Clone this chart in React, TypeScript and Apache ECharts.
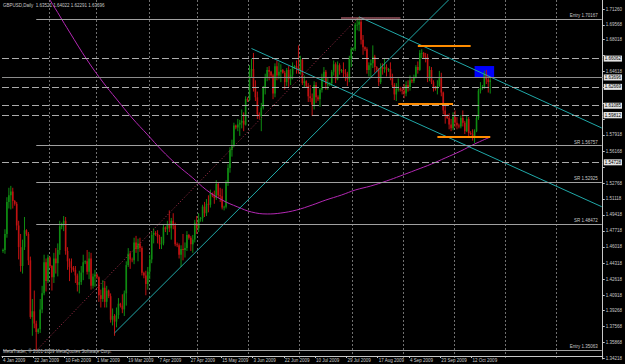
import { useEffect, useRef } from "react";
import * as echarts from "echarts";

// GBPUSD Daily bars, [open, high, low, close], one per trading day (Sunday bars included)
const OHLC: number[][] = [
  // Jan 4-9
  [1.4560,1.4585,1.4540,1.4570],[1.4570,1.4790,1.4530,1.4740],[1.4740,1.5130,1.4700,1.5080],[1.5080,1.5230,1.5010,1.5150],[1.5150,1.5250,1.5000,1.5190],[1.5190,1.5230,1.5010,1.5090],
  // Jan 11-16
  [1.5090,1.5100,1.5040,1.5060],[1.5060,1.5080,1.4780,1.4830],[1.4830,1.4880,1.4470,1.4600],[1.4600,1.4740,1.4340,1.4400],[1.4400,1.4680,1.4320,1.4600],[1.4600,1.4920,1.4570,1.4780],
  // Jan 18-23
  [1.4780,1.4790,1.4720,1.4740],[1.4740,1.4760,1.4410,1.4460],[1.4460,1.4500,1.3840,1.3860],[1.3860,1.4050,1.3660,1.3920],[1.3920,1.4140,1.3740,1.3790],[1.3790,1.3820,1.3503,1.3700],
  // Jan 25-30
  [1.3700,1.3740,1.3680,1.3730],[1.3730,1.4050,1.3690,1.3940],[1.3940,1.4190,1.3900,1.4110],[1.4110,1.4520,1.4090,1.4440],[1.4440,1.4480,1.4130,1.4240],[1.4240,1.4520,1.4220,1.4490],
  // Feb 1-6
  [1.4490,1.4500,1.4380,1.4400],[1.4400,1.4410,1.4140,1.4280],[1.4280,1.4540,1.4220,1.4480],[1.4480,1.4590,1.4320,1.4430],[1.4430,1.4640,1.4290,1.4570],[1.4570,1.4880,1.4520,1.4820],
  // Feb 8-13
  [1.4820,1.4860,1.4790,1.4840],[1.4840,1.4930,1.4770,1.4880],[1.4880,1.4920,1.4520,1.4560],[1.4560,1.4600,1.4360,1.4450],[1.4450,1.4480,1.4240,1.4390],[1.4390,1.4480,1.4330,1.4380],
  // Feb 15-20
  [1.4380,1.4400,1.4340,1.4360],[1.4360,1.4400,1.4220,1.4300],[1.4300,1.4320,1.4130,1.4200],[1.4200,1.4350,1.4110,1.4230],[1.4230,1.4400,1.4200,1.4330],[1.4330,1.4520,1.4250,1.4440],
  // Feb 22-27
  [1.4440,1.4460,1.4420,1.4450],[1.4450,1.4570,1.4310,1.4340],[1.4340,1.4550,1.4260,1.4480],[1.4480,1.4540,1.4150,1.4190],[1.4190,1.4320,1.4160,1.4290],[1.4290,1.4360,1.4180,1.4310],
  // Mar 1-6
  [1.4310,1.4320,1.4260,1.4280],[1.4280,1.4290,1.4020,1.4090],[1.4090,1.4150,1.3960,1.4050],[1.4050,1.4250,1.4020,1.4170],[1.4170,1.4240,1.3960,1.4020],[1.4020,1.4190,1.3960,1.4140],
  // Mar 8-13
  [1.4140,1.4150,1.4060,1.4080],[1.4080,1.4110,1.3800,1.3830],[1.3830,1.3950,1.3770,1.3870],[1.3870,1.3890,1.3660,1.3810],[1.3810,1.3960,1.3750,1.3880],[1.3880,1.4060,1.3840,1.4000],
  // Mar 15-20
  [1.4000,1.4010,1.3960,1.3980],[1.3980,1.4100,1.3900,1.3940],[1.3940,1.4140,1.3870,1.4110],[1.4110,1.4450,1.3980,1.4410],[1.4410,1.4590,1.4390,1.4530],[1.4530,1.4560,1.4370,1.4470],
  // Mar 22-27
  [1.4470,1.4490,1.4440,1.4460],[1.4460,1.4700,1.4420,1.4650],[1.4650,1.4720,1.4540,1.4580],[1.4580,1.4690,1.4450,1.4640],[1.4640,1.4700,1.4550,1.4590],[1.4590,1.4610,1.4300,1.4330],
  // Mar 29-Apr 3
  [1.4330,1.4340,1.4270,1.4300],[1.4300,1.4350,1.4090,1.4210],[1.4210,1.4390,1.4150,1.4340],[1.4340,1.4520,1.4260,1.4470],[1.4470,1.4770,1.4430,1.4730],[1.4730,1.4800,1.4640,1.4750],
  // Apr 5-9
  [1.4750,1.4770,1.4720,1.4740],[1.4740,1.4780,1.4640,1.4710],[1.4710,1.4730,1.4580,1.4630],[1.4630,1.4710,1.4580,1.4640],[1.4640,1.4840,1.4620,1.4810],
  // Apr 12-17
  [1.4810,1.4820,1.4760,1.4790],[1.4790,1.4880,1.4730,1.4840],[1.4840,1.4990,1.4760,1.4800],[1.4800,1.4910,1.4680,1.4880],[1.4880,1.4960,1.4790,1.4830],[1.4830,1.4860,1.4610,1.4630],
  // Apr 19-24
  [1.4630,1.4650,1.4600,1.4620],[1.4620,1.4640,1.4480,1.4520],[1.4520,1.4620,1.4390,1.4580],[1.4580,1.4740,1.4460,1.4570],[1.4570,1.4650,1.4490,1.4590],[1.4590,1.4770,1.4560,1.4730],
  // Apr 26-May 1
  [1.4730,1.4740,1.4680,1.4700],[1.4700,1.4720,1.4560,1.4630],[1.4630,1.4730,1.4540,1.4680],[1.4680,1.4890,1.4650,1.4860],[1.4860,1.4930,1.4740,1.4800],[1.4800,1.4960,1.4760,1.4900],
  // May 3-8
  [1.4900,1.4920,1.4870,1.4910],[1.4910,1.5050,1.4870,1.5030],[1.5030,1.5080,1.4920,1.4960],[1.4960,1.5110,1.4930,1.5060],[1.5060,1.5150,1.4970,1.5050],[1.5050,1.5210,1.5020,1.5170],
  // May 10-15
  [1.5170,1.5180,1.5130,1.5150],[1.5150,1.5200,1.5060,1.5120],[1.5120,1.5310,1.5100,1.5270],[1.5270,1.5290,1.5120,1.5150],[1.5150,1.5230,1.5080,1.5140],[1.5140,1.5220,1.5000,1.5020],
  // May 17-22
  [1.5020,1.5040,1.4990,1.5030],[1.5030,1.5310,1.5010,1.5280],[1.5280,1.5480,1.5250,1.5440],[1.5440,1.5660,1.5390,1.5630],[1.5630,1.5740,1.5560,1.5680],[1.5680,1.5920,1.5660,1.5890],
  // May 24-29
  [1.5890,1.5900,1.5850,1.5870],[1.5870,1.5960,1.5830,1.5900],[1.5900,1.5950,1.5780,1.5920],[1.5920,1.6060,1.5860,1.5940],[1.5940,1.6030,1.5830,1.5900],[1.5900,1.6200,1.5890,1.6170],
  // May 31-Jun 5
  [1.6170,1.6190,1.6140,1.6160],[1.6160,1.6530,1.6150,1.6470],[1.6470,1.6600,1.6400,1.6490],[1.6490,1.6660,1.6250,1.6300],[1.6300,1.6370,1.6150,1.6190],[1.6190,1.6250,1.5960,1.6010],
  // Jun 7-12
  [1.6010,1.6030,1.5960,1.5990],[1.5990,1.6130,1.5830,1.6080],[1.6080,1.6310,1.6060,1.6290],[1.6290,1.6440,1.6220,1.6400],[1.6400,1.6510,1.6360,1.6480],[1.6480,1.6520,1.6370,1.6460],
  // Jun 14-19
  [1.6460,1.6470,1.6390,1.6420],[1.6420,1.6440,1.6170,1.6230],[1.6230,1.6550,1.6190,1.6520],[1.6520,1.6580,1.6370,1.6420],[1.6420,1.6560,1.6380,1.6460],[1.6460,1.6540,1.6350,1.6480],
  // Jun 21-26
  [1.6480,1.6490,1.6440,1.6450],[1.6450,1.6470,1.6270,1.6350],[1.6350,1.6500,1.6310,1.6480],[1.6480,1.6520,1.6300,1.6380],[1.6380,1.6490,1.6320,1.6430],[1.6430,1.6560,1.6380,1.6510],
  // Jun 28-Jul 3
  [1.6510,1.6530,1.6490,1.6520],[1.6520,1.6580,1.6440,1.6500],[1.6500,1.6740,1.6440,1.6470],[1.6470,1.6630,1.6430,1.6590],[1.6590,1.6600,1.6320,1.6340],[1.6340,1.6420,1.6300,1.6360],
  // Jul 5-10
  [1.6360,1.6370,1.6290,1.6310],[1.6310,1.6340,1.6140,1.6200],[1.6200,1.6320,1.6140,1.6180],[1.6180,1.6230,1.5990,1.6110],[1.6110,1.6360,1.6060,1.6320],[1.6320,1.6350,1.6130,1.6190],
  // Jul 12-17
  [1.6190,1.6210,1.6150,1.6170],[1.6170,1.6290,1.6090,1.6270],[1.6270,1.6440,1.6240,1.6400],[1.6400,1.6510,1.6360,1.6460],[1.6460,1.6480,1.6270,1.6330],[1.6330,1.6400,1.6270,1.6330],
  // Jul 19-24
  [1.6330,1.6350,1.6310,1.6340],[1.6340,1.6480,1.6310,1.6460],[1.6460,1.6580,1.6420,1.6540],[1.6540,1.6560,1.6340,1.6380],[1.6380,1.6570,1.6370,1.6530],[1.6530,1.6550,1.6430,1.6470],
  // Jul 26-31
  [1.6470,1.6490,1.6450,1.6480],[1.6480,1.6560,1.6400,1.6450],[1.6450,1.6490,1.6360,1.6440],[1.6440,1.6460,1.6310,1.6380],[1.6380,1.6630,1.6350,1.6600],[1.6600,1.6720,1.6510,1.6700],
  // Aug 2-7
  [1.6700,1.6720,1.6680,1.6700],[1.6700,1.6980,1.6680,1.6960],[1.6960,1.7030,1.6900,1.6960],[1.6960,1.7043,1.6890,1.6990],[1.6990,1.7010,1.6750,1.6800],[1.6800,1.6850,1.6640,1.6720],
  // Aug 9-14
  [1.6720,1.6730,1.6680,1.6700],[1.6700,1.6720,1.6440,1.6480],[1.6480,1.6560,1.6410,1.6530],[1.6530,1.6590,1.6400,1.6550],[1.6550,1.6740,1.6500,1.6620],[1.6620,1.6640,1.6450,1.6510],
  // Aug 16-21
  [1.6510,1.6520,1.6460,1.6480],[1.6480,1.6500,1.6310,1.6350],[1.6350,1.6550,1.6330,1.6510],[1.6510,1.6550,1.6430,1.6490],[1.6490,1.6600,1.6450,1.6510],[1.6510,1.6540,1.6410,1.6480],
  // Aug 23-28
  [1.6480,1.6500,1.6460,1.6490],[1.6490,1.6560,1.6370,1.6400],[1.6400,1.6440,1.6290,1.6320],[1.6320,1.6340,1.6160,1.6220],[1.6220,1.6340,1.6150,1.6280],[1.6280,1.6390,1.6250,1.6280],
  // Aug 30-Sep 4
  [1.6280,1.6300,1.6250,1.6270],[1.6270,1.6300,1.6220,1.6260],[1.6260,1.6330,1.6180,1.6230],[1.6230,1.6360,1.6200,1.6320],[1.6320,1.6370,1.6250,1.6300],[1.6300,1.6420,1.6260,1.6370],
  // Sep 6-11
  [1.6370,1.6390,1.6340,1.6360],[1.6360,1.6430,1.6340,1.6400],[1.6400,1.6530,1.6390,1.6510],[1.6510,1.6570,1.6440,1.6480],[1.6480,1.6690,1.6470,1.6660],[1.6660,1.6700,1.6600,1.6660],
  // Sep 13-18
  [1.6660,1.6670,1.6600,1.6620],[1.6620,1.6660,1.6560,1.6610],[1.6610,1.6650,1.6350,1.6390],[1.6390,1.6520,1.6360,1.6480],[1.6480,1.6510,1.6330,1.6350],[1.6350,1.6370,1.6250,1.6290],
  // Sep 20-25
  [1.6290,1.6310,1.6260,1.6280],[1.6280,1.6370,1.6220,1.6310],[1.6310,1.6470,1.6300,1.6400],[1.6400,1.6450,1.6200,1.6240],[1.6240,1.6250,1.6010,1.6050],[1.6050,1.6100,1.5910,1.6000],
  // Sep 27-Oct 2
  [1.6000,1.6010,1.5960,1.5970],[1.5970,1.6020,1.5850,1.5900],[1.5900,1.5960,1.5830,1.5860],[1.5860,1.6030,1.5840,1.5980],[1.5980,1.6050,1.5870,1.5920],[1.5920,1.5980,1.5850,1.5890],
  // Oct 4-9
  [1.5890,1.5910,1.5860,1.5880],[1.5880,1.6000,1.5860,1.5970],[1.5970,1.6050,1.5880,1.5920],[1.5920,1.5940,1.5800,1.5830],[1.5830,1.6000,1.5820,1.5960],[1.5960,1.5980,1.5780,1.5810],
  // Oct 11-16
  [1.5810,1.5830,1.5790,1.5800],[1.5800,1.5850,1.5730,1.5770],[1.5770,1.5850,1.5705,1.5830],[1.5830,1.6000,1.5820,1.5970],[1.5970,1.6280,1.5950,1.6260],[1.6260,1.6350,1.6230,1.6290],
  // Oct 18-22
  [1.6290,1.6320,1.6270,1.6300],[1.6300,1.6470,1.6280,1.6440],[1.6440,1.6480,1.6330,1.6380],[1.6380,1.6420,1.6240,1.6352],[1.63521,1.64022,1.62291,1.63696],
];

// calendar: first bar, days without a bar (Saturdays are always skipped), slots on the time axis
const FIRST_DAY = "2009-01-04";
const NO_BAR_DAYS = ["2009-04-10"];
const SLOT_COUNT = 307;
const LABEL_EVERY = 16;
const LAST_LABEL_INDEX = 240;
const MONTHS = ["Jan","Feb","Mar","Apr","May","Jun","Jul","Aug","Sep","Oct","Nov","Dec"];

// price scale: tick marks, and the tick labels that are not hidden under a price box
const Y_TICKS = [1.71260,1.69568,1.68018,1.66318,1.64618,1.62918,1.61218,1.59568,1.57918,1.56168,1.54468,1.52768,1.51118,1.49418,1.47718,1.46018,1.44318,1.42618,1.40918,1.39268,1.37568,1.35868,1.34218];
const Y_LABELS = [1.71260,1.69568,1.68018,1.64618,1.57918,1.56168,1.52768,1.51118,1.49418,1.47718,1.46018,1.44318,1.42618,1.40918,1.39268,1.37568,1.35868,1.34218];
const Y_MIN = 1.34139;
const Y_MAX = 1.72215;

// moving average curve [bar index, value]
const MA_POINTS: [number, number][] = [
  [22,1.7274],[24,1.7221],[34,1.6882],[43,1.6585],[51,1.6352],[58,1.6171],[66,1.5970],[74,1.5790],[81,1.5631],[89,1.5472],[97,1.5334],[104,1.5206],[112,1.5100],[120,1.5026],[127,1.4973],[135,1.4952],[142,1.4962],[150,1.4994],[158,1.5047],[165,1.5100],[173,1.5153],[180,1.5206],[188,1.5249],[196,1.5302],[203,1.5355],[211,1.5418],[219,1.5482],[226,1.5546],[234,1.5620],[241,1.5694],[249,1.5768],
];

// trend lines [bar index, price]
const TREND_UP: [number, number][] = [[57,1.3690],[240,1.7476]];
const TREND_DOWN_TOP: [number, number][] = [[182,1.7043],[306,1.5864]];
const TREND_DOWN_LOW: [number, number][] = [[127,1.6707],[306,1.5029]];
const TREND_DOTTED: [number, number][] = [[17,1.3503],[182,1.7043]];

// horizontal levels
const SR_LEVELS = [
  { text: "Entry 1.70167", value: 1.70167, from: 17 },
  { text: "SR 1.56757", value: 1.56757, from: 17 },
  { text: "SR 1.52925", value: 1.52925, from: 17 },
  { text: "SR 1.48472", value: 1.48472, from: 17 },
  { text: "Entry 1.35063", value: 1.35063, from: 0 },
];
const DASHED_LEVELS = [1.66062, 1.62669, 1.61085, 1.60448, 1.59812, 1.54728];
const BID = 1.63696;
const ORDER_TEXT = "#159249114 sell stop";
const RED_LEVEL = 1.6447;
const GREEN_LEVEL = 1.6352;
const ORANGE_SEGMENTS = [
  { from: 212, to: 239, value: 1.6734 },
  { from: 202, to: 230, value: 1.6118 },
  { from: 222, to: 249, value: 1.5768 },
];
const PINK_SEGMENT = { from: 173, to: 203, value: 1.7031 };
const BLUE_BOX = { from: 241, to: 251, top: 1.6521, bottom: 1.6405 };

const TITLE = "GBPUSD,Daily  1.63521 1.64022 1.62291 1.63696";
const COPYRIGHT = "MetaTrader, © 2001-2009 MetaQuotes Software Corp.";

const FONT = "Liberation Sans";
const FS = 4.5;
const TXT = "#c8c8c8";
const UP = "#0f8c12";
const DOWN = "#c01212";

function buildDates(): Date[] {
  const out: Date[] = [];
  const d = new Date(FIRST_DAY + "T00:00:00Z");
  while (out.length < SLOT_COUNT) {
    const iso = d.toISOString().slice(0, 10);
    if (d.getUTCDay() !== 6 && !NO_BAR_DAYS.includes(iso)) out.push(new Date(d.getTime()));
    d.setUTCDate(d.getUTCDate() + 1);
  }
  return out;
}

export default function App() {
  const ref = useRef<HTMLDivElement>(null);
  useEffect(() => {
    document.body.style.margin = "0";
    const dates = buildDates();
    const categories = dates.map((d) => `${d.getUTCDate()} ${MONTHS[d.getUTCMonth()]} ${d.getUTCFullYear()}`);
    const isLabel = (i: number) => i % LABEL_EVERY === 0 && i <= LAST_LABEL_INDEX;
    const isMonthStart = (i: number) => i > 0 && !!dates[i] && !!dates[i - 1] && dates[i].getUTCMonth() !== dates[i - 1].getUTCMonth();
    const lastSlot = SLOT_COUNT - 1;

    const boxLabel = (v: number) => ({
      show: true, position: "end", distance: 1, formatter: v.toFixed(5),
      backgroundColor: "#e4e4e4", color: "#000", padding: [1, 1, 0, 1],
      fontSize: FS, fontFamily: FONT,
    });

    const markLineData: any[] = [];
    SR_LEVELS.forEach((s) => {
      markLineData.push([
        { coord: [s.from, s.value], lineStyle: { color: "#a0a0a0", width: 1, type: "solid" },
          label: { show: true, position: "insideEndTop", distance: [4, 1], formatter: s.text, color: TXT, fontSize: FS, fontFamily: FONT } },
        { coord: [lastSlot, s.value] },
      ]);
    });
    DASHED_LEVELS.forEach((v) => {
      markLineData.push({ yAxis: v, lineStyle: { color: "#acacac", width: 1, type: [7, 3] }, label: boxLabel(v) });
    });
    markLineData.push({ yAxis: RED_LEVEL, lineStyle: { color: "#b01818", width: 1, type: [6, 2, 1, 2] }, label: { show: false } });
    markLineData.push({ yAxis: GREEN_LEVEL, lineStyle: { color: "#1e9a1e", width: 1, type: [6, 2, 1, 2] }, label: { show: false } });
    markLineData.push({ yAxis: BID, lineStyle: { color: "#8c8c8c", width: 1, type: "solid" }, label: boxLabel(BID) });
    markLineData.push({ yAxis: BID, lineStyle: { opacity: 0 },
      label: { show: true, position: "insideStartTop", distance: [3, 0], formatter: ORDER_TEXT, color: TXT, fontSize: FS, fontFamily: FONT } });
    ORANGE_SEGMENTS.forEach((o) => {
      markLineData.push([
        { coord: [o.from, o.value], lineStyle: { color: "#ff8c00", width: 2, type: "solid" }, label: { show: false } },
        { coord: [o.to, o.value] },
      ]);
    });
    markLineData.push([
      { coord: [PINK_SEGMENT.from, PINK_SEGMENT.value], lineStyle: { color: "#e07a8a", width: 2, type: [1, 1] }, label: { show: false } },
      { coord: [PINK_SEGMENT.to, PINK_SEGMENT.value] },
    ]);

    const trend = (data: [number, number][], color: string, type: any = "solid") => ({
      type: "line", data, showSymbol: false, symbol: "none", silent: true, clip: true,
      lineStyle: { color, width: 1, type }, z: 3,
    });

    const renderBar = (_params: any, api: any) => {
      const i = api.value(0);
      const o = api.value(1), h = api.value(2), l = api.value(3), c = api.value(4);
      const pH = api.coord([i, h]);
      const pL = api.coord([i, l]);
      const pO = api.coord([i, o]);
      const pC = api.coord([i, c]);
      const color = c >= o ? UP : DOWN;
      const x = pH[0];
      const top = Math.min(pO[1], pC[1]);
      const hgt = Math.max(Math.abs(pO[1] - pC[1]), 0.8);
      return {
        type: "group",
        children: [
          { type: "line", shape: { x1: x, y1: pH[1], x2: x, y2: pL[1] }, style: { stroke: color, lineWidth: 1 } },
          { type: "rect", shape: { x: x - 0.8, y: top, width: 1.6, height: hgt }, style: { fill: color } },
        ],
      };
    };

    const option: any = {
      animation: false,
      backgroundColor: "#000",
      textStyle: { fontFamily: FONT },
      grid: { left: 0, right: 21, top: 0, bottom: 5, containLabel: false },
      xAxis: {
        type: "category", data: categories, boundaryGap: true, offset: -3,
        axisLine: { show: true, lineStyle: { color: TXT, width: 1 } },
        axisTick: { show: true, length: 2, interval: (i: number) => isLabel(i), lineStyle: { color: TXT } },
        axisLabel: { interval: (i: number) => isLabel(i), align: "left", fontSize: FS, color: TXT, margin: 2, fontFamily: FONT },
        splitLine: { show: true, interval: (i: number) => isMonthStart(i), lineStyle: { color: "#707070", width: 1, type: [2, 2] } },
      },
      yAxis: {
        type: "value", position: "right", min: Y_MIN, max: Y_MAX,
        axisLine: { show: true, lineStyle: { color: TXT, width: 1 } },
        axisTick: { show: true, length: 2, customValues: Y_TICKS, lineStyle: { color: TXT } },
        axisLabel: { customValues: Y_LABELS, formatter: (v: number) => v.toFixed(5), fontSize: FS, color: TXT, margin: 3, fontFamily: FONT },
        splitLine: { show: false },
      },
      series: [
        {
          type: "custom",
          data: OHLC.map((d, i) => [i, d[0], d[1], d[2], d[3]]),
          encode: { x: 0, y: [1, 2, 3, 4] },
          renderItem: renderBar,
          clip: true,
          silent: true,
          z: 2,
          markLine: { symbol: ["none", "none"], silent: true, label: { show: false }, emphasis: { disabled: true }, data: markLineData },
          markArea: {
            silent: true,
            itemStyle: { color: "#0000ff", opacity: 1 },
            data: [[{ coord: [BLUE_BOX.from, BLUE_BOX.top] }, { coord: [BLUE_BOX.to, BLUE_BOX.bottom] }]],
          },
        },
        { ...trend(MA_POINTS, "#b428b4"), smooth: 0.4 },
        trend(TREND_UP, "#20a8a8"),
        trend(TREND_DOWN_TOP, "#20a8a8"),
        trend(TREND_DOWN_LOW, "#20a8a8"),
        trend(TREND_DOTTED, "#a8304c", [1, 2]),
      ],
      graphic: [
        { type: "text", left: 3, top: 3, style: { text: TITLE, fill: TXT, fontSize: FS, fontFamily: FONT } },
        { type: "text", left: 3, top: 349, style: { text: COPYRIGHT, fill: TXT, fontSize: FS, fontFamily: FONT } },
      ],
    };

    const chart = echarts.init(ref.current!, undefined, { renderer: "svg" });
    chart.setOption(option);
    return () => chart.dispose();
  }, []);
  return <div ref={ref} style={{ width: 625, height: 364, background: "#000" }} />;
}
